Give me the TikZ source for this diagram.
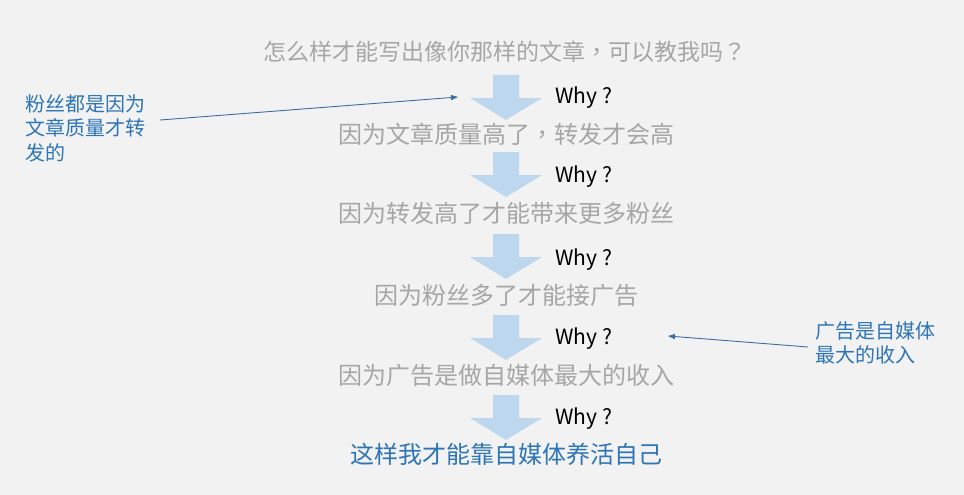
\documentclass[tikz,border=0pt]{standalone}
\usepackage{fontspec}
\setmainfont{Noto Sans CJK SC}
\newfontfamily\tcpunct{Noto Sans CJK TC}
\usetikzlibrary{arrows.meta}
\definecolor{bgc}{HTML}{F2F2F2}
\definecolor{graytx}{HTML}{A6A6A6}
\definecolor{bluetx}{HTML}{2E75B6}
\definecolor{arrowfill}{HTML}{BDD7EE}
\definecolor{linec}{HTML}{3A6EA5}
\tikzset{
  downarrow/.pic={\fill[arrowfill] (-13,0) -- (13,0) -- (13,23) -- (36,23) -- (0,45) -- (-36,23) -- (-13,23) -- cycle;}
}
\begin{document}
\begin{tikzpicture}[x=1pt,y=-1pt,
  graytext/.style={text=graytx,font=\fontsize{24}{28}\selectfont,inner sep=0pt},
  bluetext/.style={text=bluetx,font=\fontsize{24}{28}\selectfont,inner sep=0pt},
  whytext/.style={text=black,font=\fontsize{21}{24}\selectfont,anchor=base west,inner sep=0pt},
  note/.style={text=bluetx,font=\fontsize{20}{24.5}\selectfont,align=left,anchor=west,inner sep=0pt},
  pointer/.style={draw=linec,line width=0.9pt,-{Triangle[length=7pt,width=5pt]}}]
\fill[bgc] (0,0) rectangle (964,495);
\useasboundingbox (0,0) rectangle (964,495);

\node[graytext,font=\fontsize{23}{28}\selectfont] (t0) at (505,52) {怎么样才能写出像你那样的文章{\tcpunct ，}可以教我吗{\tcpunct ？}};
\node[graytext] (t1) at (506,134) {因为文章质量高了{\tcpunct ，}转发才会高};
\node[graytext] (t2) at (506,213) {因为转发高了才能带来更多粉丝};
\node[graytext] (t3) at (506,295) {因为粉丝多了才能接广告};
\node[graytext] (t4) at (506,375) {因为广告是做自媒体最大的收入};
\node[bluetext] (t5) at (506,454) {这样我才能靠自媒体养活自己};

\pic (a1) at (506,75) {downarrow};
\pic (a2) at (506,152) {downarrow};
\pic (a3) at (506,234) {downarrow};
\pic (a4) at (506,315) {downarrow};
\pic (a5) at (506,395) {downarrow};

\node[whytext] (w1) at (555,103) {Why ?};
\node[whytext] (w2) at (555,182) {Why ?};
\node[whytext] (w3) at (555,265) {Why ?};
\node[whytext] (w4) at (555,344) {Why ?};
\node[whytext] (w5) at (555,424) {Why ?};

\node[note] (n1) at (25,128) {粉丝都是因为\\文章质量才转\\发的};
\node[note] (n2) at (815,343) {广告是自媒体\\最大的收入};

\coordinate (s1) at (160,120);
\coordinate (e1) at (458,97);
\coordinate (s2) at (808,347);
\coordinate (e2) at (668,336);
\draw[pointer] (s1) -- (e1);
\draw[pointer] (s2) -- (e2);
\end{tikzpicture}
\end{document}
